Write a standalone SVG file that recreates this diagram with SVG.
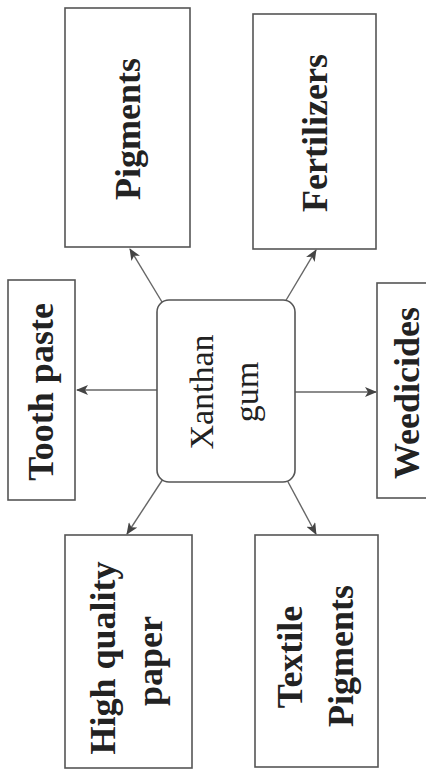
<svg xmlns="http://www.w3.org/2000/svg" width="426" height="771" viewBox="0 0 426 771">
<defs>
<style>
.box{fill:#fff;stroke:#555;stroke-width:1.6}
.lbl{font-family:"Liberation Serif",serif;font-weight:bold;font-size:36px;fill:#222;text-anchor:middle}
.ctr{font-family:"Liberation Serif",serif;font-size:34px;fill:#222;text-anchor:middle}
.con{stroke:#666;stroke-width:1.4;fill:none;marker-end:url(#ah)}
</style>
<marker id="ah" markerWidth="12" markerHeight="10" refX="11" refY="5" orient="auto" markerUnits="userSpaceOnUse">
<path d="M0,0 L12,5 L0,10 L3,5 z" fill="#444"/>
</marker>
</defs>
<rect width="426" height="771" fill="#fff"/>
<g id="connectors">
<path class="con" d="M157,390 L77,390"/>
<path class="con" d="M295,392 L376,392"/>
<path class="con" d="M162,302 L130,249"/>
<path class="con" d="M285,302 L316,250"/>
<path class="con" d="M163,479 L127,534"/>
<path class="con" d="M287,480 L316,534"/>
</g>
<g id="pigments">
<rect class="box" x="65" y="8" width="125" height="239"/>
<text class="lbl" transform="translate(140,129) rotate(-90)">Pigments</text>
</g>
<g id="fertilizers">
<rect class="box" x="253" y="14" width="123" height="235"/>
<text class="lbl" transform="translate(327,133) rotate(-90)">Fertilizers</text>
</g>
<g id="toothpaste">
<rect class="box" x="8" y="280" width="67" height="220"/>
<text class="lbl" transform="translate(53,392) rotate(-90)">Tooth paste</text>
</g>
<g id="xanthan">
<rect class="box" x="157" y="300" width="138" height="182" rx="12"/>
<text class="ctr" transform="translate(213,392) rotate(-90)">Xanthan</text>
<text class="ctr" transform="translate(258,392) rotate(-90)">gum</text>
</g>
<g id="weedicides">
<rect class="box" x="377" y="283" width="60" height="215"/>
<text class="lbl" transform="translate(419,393) rotate(-90)">Weedicides</text>
</g>
<g id="paper">
<rect class="box" x="65" y="535" width="127" height="233"/>
<text class="lbl" transform="translate(115,658) rotate(-90)">High quality</text>
<text class="lbl" transform="translate(162,661) rotate(-90)">paper</text>
</g>
<g id="textile">
<rect class="box" x="255" y="535" width="123" height="232"/>
<text class="lbl" transform="translate(302,657) rotate(-90)">Textile</text>
<text class="lbl" transform="translate(353,656) rotate(-90)">Pigments</text>
</g>
</svg>
